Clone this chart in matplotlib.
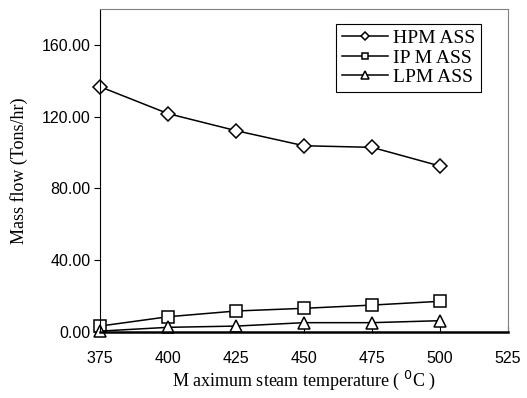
import matplotlib.pyplot as plt

temps = [375, 400, 425, 450, 475, 500]
hp_mass = [136.7, 121.7, 112.2, 103.8, 102.9, 92.5]
ip_mass = [3.3, 8.5, 11.7, 13.2, 15.0, 17.1]
lp_mass = [0.5, 2.6, 3.3, 5.2, 5.2, 6.3]

x_ticks = [375, 400, 425, 450, 475, 500, 525]
y_ticks = [0, 40, 80, 120, 160]

fig = plt.figure(figsize=(5.27, 3.98), dpi=100)
ax = fig.add_axes([100/527, 1 - 332/398, 408/527, 323/398])

mk = dict(color='black', lw=1.1, markerfacecolor='white', markeredgecolor='black',
          markersize=8, markeredgewidth=1.1, clip_on=False)
ax.plot(temps, hp_mass, marker='D', label='HPM ASS', **dict(mk, markersize=7))
ax.plot(temps, ip_mass, marker='s', label='IP M ASS', **mk)
ax.plot(temps, lp_mass, marker='^', label='LPM ASS', **dict(mk, markersize=9))

ax.set_xlim(375, 525)
ax.set_ylim(0, 180)
ax.set_xticks(x_ticks)
ax.set_yticks(y_ticks)
ax.set_yticklabels(['%.2f' % v for v in y_ticks])

for lab in ax.get_xticklabels() + ax.get_yticklabels():
    lab.set_family('Liberation Sans')
    lab.set_fontsize(11.5)

ax.tick_params(axis='x', direction='in', length=4, pad=14)
ax.tick_params(axis='y', direction='out', length=4, pad=3)

ax.spines['bottom'].set_linewidth(1.8)
ax.spines['left'].set_color('black')
ax.spines['top'].set_color('#808080')
ax.spines['right'].set_color('#808080')

ax.set_xlabel('M aximum steam temperature ( $^0$C )', family='Liberation Serif',
              fontsize=13, labelpad=2)
ax.set_ylabel('Mass flow (Tons/hr)', family='Liberation Serif', fontsize=13, labelpad=10)

leg = ax.legend(loc='upper right', prop={'family': 'Liberation Serif', 'size': 14},
                fancybox=False, edgecolor='black', framealpha=1, handlelength=2.4,
                borderpad=0.3, labelspacing=0.1, handletextpad=0.25, markerscale=0.6,
                bbox_to_anchor=(0.958, 0.985))
leg.get_frame().set_linewidth(0.8)

fig.savefig('out.png', dpi=100)
